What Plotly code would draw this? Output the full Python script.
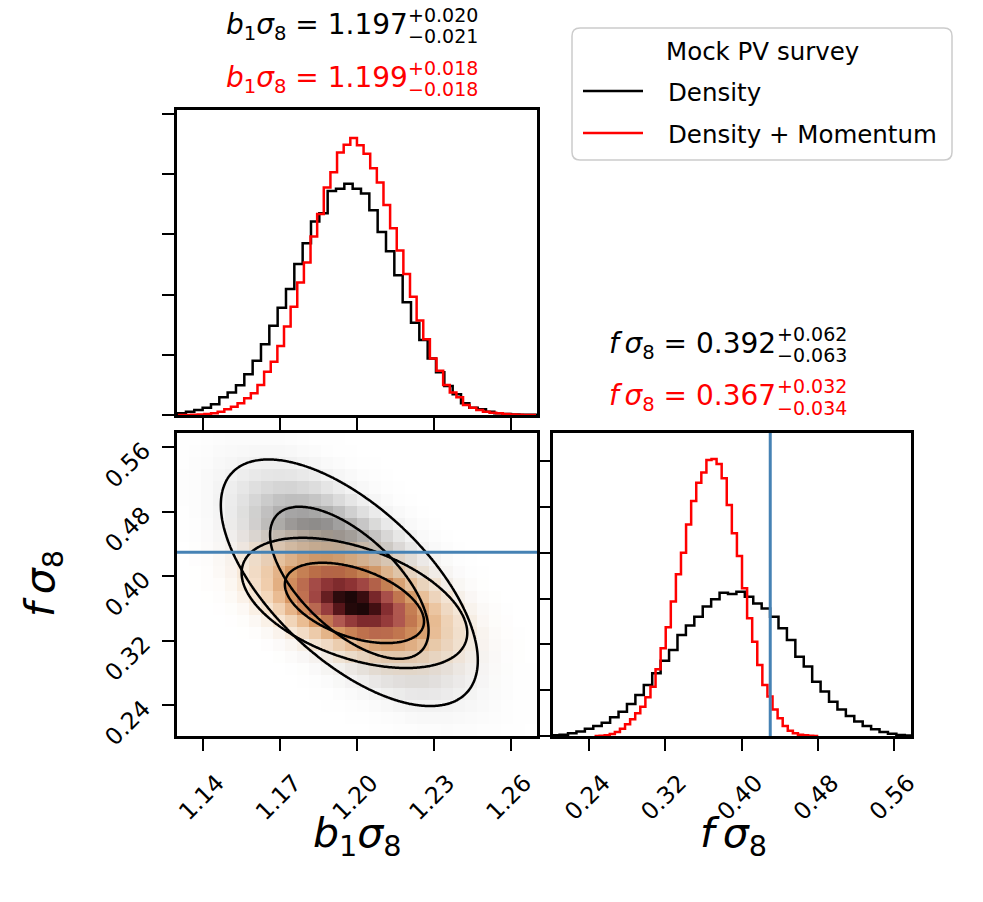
import numpy as np
import plotly.graph_objects as go

# ------------------------------------------------------------------ data
chain_names = ["Density", "Density + Momentum"]
chain_colors = ["black", "red"]

b_tickvals = [1.14, 1.17, 1.20, 1.23, 1.26]
b_ticktext = ["1.14", "1.17", "1.20", "1.23", "1.26"]
f_tickvals = [0.24, 0.32, 0.40, 0.48, 0.56]
f_ticktext = ["0.24", "0.32", "0.40", "0.48", "0.56"]
b_range = [1.1297, 1.2703]
f_range = [0.2019, 0.5778]
truth_f = 0.43

# 1D marginal histograms (probability density per bin)
b_bins_density = dict(start=1.12995, width=0.003255)
b_hist_density = [0.14, 0.28, 0.42, 0.6, 0.9, 1.47, 1.86, 2.47, 3.38, 4.5,
                  5.87, 7.42, 8.9, 10.47, 12.55, 14.27, 16.07, 16.76, 18.6, 18.8,
                  19.2, 18.78, 18.4, 17.0, 15.2, 13.6, 11.6, 9.36, 7.67, 6.23,
                  4.7, 3.55, 2.41, 1.72, 0.97, 0.61, 0.47, 0.28, 0.14, 0.08,
                  0.05, 0.03, 0.02]
b_bins_mom = dict(start=1.13005, width=0.00259)
b_hist_mom = [0.0, 0.01, 0.02, 0.04, 0.08,
              0.14, 0.28, 0.47, 0.69, 0.97, 1.39, 1.8, 2.49, 3.6, 4.43,
              5.73, 7.34, 9.0, 11.0, 12.66, 14.82, 16.7, 18.9, 20.17, 21.8,
              22.44, 23.0, 22.4, 21.7, 20.5, 19.3, 17.45, 15.5, 13.66, 11.7,
              9.83, 7.84, 6.29, 4.7, 3.68, 2.49, 1.86, 1.47, 0.83, 0.61,
              0.42, 0.28, 0.19, 0.14, 0.08, 0.04, 0.02, 0.01, 0.0]
f_bins_density = dict(start=0.2, width=0.00884)
f_hist_density = [0.03, 0.06, 0.12, 0.2, 0.32, 0.44, 0.58, 0.82, 1.06, 1.4,
                  1.79, 2.23, 2.74, 3.29, 3.76, 4.41, 4.83, 5.21, 5.65, 5.97,
                  6.26, 6.2, 6.3, 6.08, 5.79, 5.57, 5.21, 4.7, 4.19, 3.46,
                  3.03, 2.37, 1.94, 1.5, 1.16, 0.87, 0.63, 0.44, 0.29, 0.17,
                  0.1, 0.04, 0.02]
f_bins_mom = dict(start=0.2455, width=0.00534)
f_hist_mom = [0.0, 0.01,
              0.03, 0.09, 0.17, 0.32, 0.51, 0.73, 0.99, 1.28, 1.69, 2.15,
              2.91, 3.83, 4.75, 5.87, 7.06, 8.0, 9.24, 10.26, 11.06, 11.5,
              12.05, 12.1, 11.88, 11.25, 10.09, 8.85, 7.86, 6.45, 5.14, 4.12,
              3.1, 2.23, 1.72, 1.16, 0.77, 0.44, 0.23, 0.12, 0.06, 0.03,
              0.01, 0.0]
b_hist_ymax = 25.33
f_hist_ymax = 13.23
b_hist_ticks = [0, 5, 10, 15, 20, 25]
f_hist_ticks = [0, 2, 4, 6, 8, 10, 12]

# 2D posterior summary: means, widths, correlation
mean_b = [1.197, 1.199]
mean_f = [0.392, 0.367]
sig_b = [0.0205, 0.018]
sig_f = [0.0625, 0.033]
rho = [-0.63, -0.46]
contour_mass = [0.68, 0.95]

# title texts
b_val = ["1.197", "1.199"]
b_up = ["+0.020", "+0.018"]
b_lo = ["\u22120.021", "\u22120.018"]
f_val = ["0.392", "0.367"]
f_up = ["+0.062", "+0.032"]
f_lo = ["\u22120.063", "\u22120.034"]
legend_title = "Mock PV survey"

# ------------------------------------------------------------------ layout helpers
W, H = 983, 902
FONT = "DejaVu Sans"


def px(x):
    return x / W


def py(y):
    return 1 - y / H


XL = [px(177), px(537)]
XR = [px(553), px(911)]
YT = [py(415), py(110)]
YB = [py(736), py(433)]

fig = go.Figure()


def step_trace(bins, vals, color, xa, ya):
    n = len(vals)
    edges = bins["start"] + bins["width"] * np.arange(n + 1)
    x = np.concatenate([[edges[0]], edges[:n], [edges[n]]])
    y = np.concatenate([[0], vals, [0]])
    return go.Scatter(x=x, y=y, mode="lines", line=dict(color=color, width=2.5, shape="hv"),
                      xaxis=xa, yaxis=ya, showlegend=False, hoverinfo="skip")


fig.add_trace(step_trace(b_bins_density, b_hist_density, "black", "x", "y"))
fig.add_trace(step_trace(b_bins_mom, b_hist_mom, "red", "x", "y"))
fig.add_trace(step_trace(f_bins_density, f_hist_density, "black", "x3", "y3"))
fig.add_trace(step_trace(f_bins_mom, f_hist_mom, "red", "x3", "y3"))


# 2D density
def gauss2d(Bg, Fg, i):
    zb = (Bg - mean_b[i]) / sig_b[i]
    zf = (Fg - mean_f[i]) / sig_f[i]
    q = (zb ** 2 + zf ** 2 - 2 * rho[i] * zb * zf) / (1 - rho[i] ** 2)
    return np.exp(-0.5 * q)


nbx, nby = 30, 25
bx = np.linspace(b_range[0], b_range[1], nbx + 1)
fy = np.linspace(f_range[0], f_range[1], nby + 1)
bxc = 0.5 * (bx[1:] + bx[:-1])
fyc = 0.5 * (fy[1:] + fy[:-1])
BB, FF = np.meshgrid(bxc, fyc)

bf = np.linspace(b_range[0], b_range[1], 240)
ff = np.linspace(f_range[0], f_range[1], 240)
BF, FFf = np.meshgrid(bf, ff)
levels = sorted(1 - m for m in contour_mass)

shade_scales = [
    [[0, "rgba(0,0,0,0)"], [1, "rgba(0,0,0,1)"]],
    [[0, "rgba(255,240,225,0)"], [0.05, "rgba(250,226,200,0.6)"], [0.18, "rgba(242,196,152,0.85)"],
     [0.33, "rgba(220,150,92,0.9)"], [0.48, "rgba(198,116,74,0.92)"], [0.62, "rgba(178,84,78,0.95)"],
     [0.76, "rgba(140,50,52,1)"], [0.88, "rgba(80,18,22,1)"], [1, "rgba(12,4,4,1)"]],
]

for i in range(2):
    fig.add_trace(go.Heatmap(x=bxc, y=fyc, z=gauss2d(BB, FF, i), zmin=0, zmax=1,
                             colorscale=shade_scales[i], showscale=False, xaxis="x2", yaxis="y2",
                             hoverinfo="skip"))
for i in range(2):
    fig.add_trace(go.Contour(x=bf, y=ff, z=gauss2d(BF, FFf, i), autocontour=False,
                             contours=dict(start=levels[0], end=levels[1], size=levels[1] - levels[0],
                                           coloring="none"),
                             line=dict(color="black", width=2.5), showscale=False,
                             xaxis="x2", yaxis="y2", hoverinfo="skip"))

# truth lines
fig.add_shape(type="line", xref="x2 domain", yref="y2", x0=0, x1=1, y0=truth_f, y1=truth_f,
              line=dict(color="#4682b4", width=3))
fig.add_shape(type="line", xref="x3", yref="y3 domain", x0=truth_f, x1=truth_f, y0=0, y1=1,
              line=dict(color="#4682b4", width=3))

axis_common = dict(showline=True, mirror=True, linewidth=2.5, linecolor="black", ticks="outside",
                   ticklen=12, tickwidth=1.5, tickcolor="black", showgrid=False, zeroline=False,
                   tickfont=dict(family=FONT, size=23.5, color="black"))

fig.update_layout(
    width=W, height=H, margin=dict(l=0, r=0, t=0, b=0, autoexpand=False),
    paper_bgcolor="white", plot_bgcolor="white", showlegend=False,
    xaxis=dict(domain=XL, anchor="y", range=b_range, tickvals=b_tickvals, showticklabels=False, **axis_common),
    yaxis=dict(domain=YT, anchor="x", range=[0, b_hist_ymax], tickvals=b_hist_ticks, showticklabels=False,
               **axis_common),
    xaxis2=dict(domain=XL, anchor="y2", range=b_range, tickvals=b_tickvals, ticktext=b_ticktext,
                tickangle=-45, ticklabelshift=14, ticklabelstandoff=9, **axis_common),
    yaxis2=dict(domain=YB, anchor="x2", range=f_range, tickvals=f_tickvals, ticktext=f_ticktext,
                tickangle=-45, ticklabelstandoff=14, **axis_common),
    xaxis3=dict(domain=XR, anchor="y3", range=f_range, tickvals=f_tickvals, ticktext=f_ticktext,
                tickangle=-45, ticklabelshift=14, ticklabelstandoff=9, **axis_common),
    yaxis3=dict(domain=YB, anchor="x3", range=[0, f_hist_ymax], tickvals=f_hist_ticks, showticklabels=False,
                **axis_common),
)

ann = []


def add_text(text, x, y, size, color="black", xanchor="center", yanchor="middle", angle=0):
    ann.append(dict(text=text, x=px(x), y=py(y), xref="paper", yref="paper", showarrow=False,
                    xanchor=xanchor, yanchor=yanchor, textangle=angle, borderpad=0,
                    font=dict(family=FONT, size=size, color=color)))


b_lab = "<i>b</i><sub>1</sub><i>\u03c3</i><sub>8</sub>"
f_lab = "<i>f</i>\u2009<i>\u03c3</i><sub>8</sub>"

# marginal titles
for i, c in enumerate(chain_colors):
    yb = 26.5 + 53 * i
    add_text(b_lab + " = " + b_val[i], 409, yb, 28, c, xanchor="right")
    add_text(b_up[i], 407, yb - 12, 19, c, xanchor="left")
    add_text(b_lo[i], 407, yb + 9.5, 19, c, xanchor="left")
    yf = 346 + 52 * i
    add_text(f_lab + " = " + f_val[i], 777, yf, 28, c, xanchor="right")
    add_text(f_up[i], 776, yf - 12, 19, c, xanchor="left")
    add_text(f_lo[i], 776, yf + 9.5, 19, c, xanchor="left")

# axis titles
add_text(b_lab, 357, 836, 41)
add_text(f_lab, 733, 836, 41)
add_text(f_lab, 43, 584, 41, angle=-90)

# legend (manual, matplotlib-like)
x0, y0, x1, y1, r = 572, 28, 952, 160, 8
rx, ry = r / W, r / H
X0, X1, Y0, Y1 = px(x0), px(x1), py(y0), py(y1)
path = (f"M {X0+rx},{Y0} L {X1-rx},{Y0} Q {X1},{Y0} {X1},{Y0-ry} L {X1},{Y1+ry} "
        f"Q {X1},{Y1} {X1-rx},{Y1} L {X0+rx},{Y1} Q {X0},{Y1} {X0},{Y1+ry} L {X0},{Y0-ry} "
        f"Q {X0},{Y0} {X0+rx},{Y0} Z")
fig.add_shape(type="path", path=path, xref="paper", yref="paper",
              line=dict(color="#cccccc", width=1.5), fillcolor="rgba(255,255,255,0.8)")
add_text(legend_title, 762, 52, 24.5)
for i, c in enumerate(chain_colors):
    yy = 91 + 42 * i
    fig.add_shape(type="line", xref="paper", yref="paper", x0=px(583), x1=px(643), y0=py(yy), y1=py(yy),
                  line=dict(color=c, width=2.5))
    add_text(chain_names[i], 667, yy + 1.5, 24.5, xanchor="left")

fig.update_layout(annotations=ann)
fig.write_html("out.html")
